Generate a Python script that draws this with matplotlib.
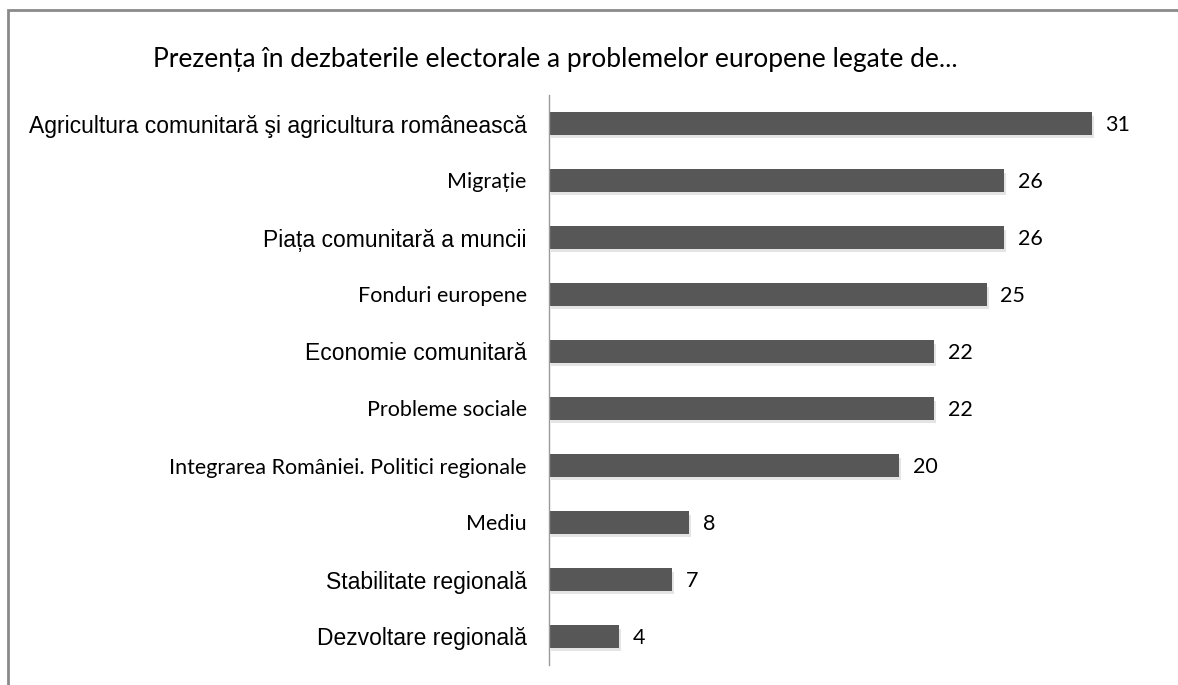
import matplotlib
matplotlib.use("Agg")
import matplotlib.pyplot as plt
import matplotlib.patheffects as pe
from matplotlib.patches import Rectangle

TITLE = "Prezența în dezbaterile electorale a problemelor europene legate de..."

categories = [
    "Agricultura comunitară şi agricultura românească",
    "Migrație",
    "Piața comunitară a muncii",
    "Fonduri europene",
    "Economie comunitară",
    "Probleme sociale",
    "Integrarea României. Politici regionale",
    "Mediu",
    "Stabilitate regională",
    "Dezvoltare regională",
]
values = [31, 26, 26, 25, 22, 22, 20, 8, 7, 4]
# the source mixes two label fonts (Arial-like and Calibri-like)
label_fonts = [
    "Liberation Sans", "Lato", "Liberation Sans", "Lato", "Liberation Sans",
    "Lato", "Lato", "Lato", "Liberation Sans", "Liberation Sans",
]

W, H = 1178, 685
fig = plt.figure(figsize=(W / 100, H / 100), dpi=100)

# outer chart frame (runs off the right and bottom edge)
fig.add_artist(Rectangle((8 / W, -0.1), 1.2, (H - 10) / H + 0.1,
                         transform=fig.transFigure, fill=False,
                         edgecolor="#8a8a8a", linewidth=2))

ax = fig.add_axes([549 / W, 20 / H, 630 / W, 570 / H])
ypos = list(range(len(categories)))
bars = ax.barh(ypos, values, height=0.39, color="#575757", edgecolor="none")
for bar in bars:
    bar.set_path_effects([
        pe.SimplePatchShadow(offset=(1.5, -2.5), shadow_rgbFace="#888888", alpha=0.22),
        pe.Normal(),
    ])

ax.set_ylim(len(categories) - 0.5, -0.5)
ax.set_xlim(0, 36)

for y, v in zip(ypos, values):
    ax.annotate(str(v), (v, y), xytext=(10, -1), textcoords="offset points",
                ha="left", va="center", fontsize=15.5, family="Lato", color="#000000")

ax.set_yticks(ypos)
ax.set_yticklabels(categories)
for lbl, fam in zip(ax.get_yticklabels(), label_fonts):
    lbl.set_fontfamily(fam)
    lbl.set_fontsize(15.5 if fam == "Lato" else 16.5)
    lbl.set_color("#000000")
ax.tick_params(axis="y", length=0, pad=16)
ax.set_xticks([])

for side in ("top", "right", "bottom"):
    ax.spines[side].set_visible(False)
ax.spines["left"].set_color("#9a9a9a")
ax.spines["left"].set_linewidth(1)

fig.text(555 / W, 1 - 60 / H, TITLE, ha="center", va="center",
         fontsize=19, family="Lato", color="#000000")

fig.savefig("out.png", dpi=100, facecolor="white")
